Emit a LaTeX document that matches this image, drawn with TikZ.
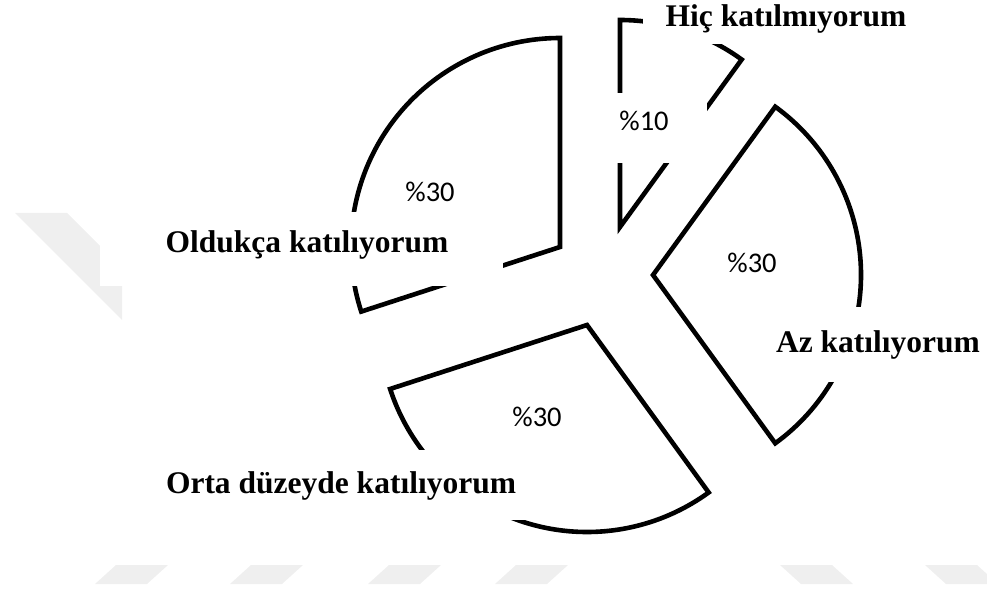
\documentclass[tikz,border=0pt]{standalone}
\usepackage{fontspec}
\setmainfont{Liberation Serif}
\newfontfamily\pctfont{Carlito}
\definecolor{wmgray}{HTML}{EFEFEF}
\begin{document}
\begin{tikzpicture}[x=1pt,y=1pt,
  slice/.style={draw=black,line width=4.6pt,line join=miter},
  wm/.style={fill=wmgray,draw=none},
  mask/.style={fill=white,draw=none},
  catlabel/.style={font=\fontsize{31.5}{34}\selectfont\bfseries,anchor=base,inner sep=0pt},
  pctlabel/.style={font=\fontsize{28.5}{30}\selectfont\pctfont,anchor=base,inner sep=0pt}]
\useasboundingbox (0,0) rectangle (987,595);
% watermark
\fill[wm] (15,382) -- (67,382) -- (122,327) -- (122,275) -- cycle;
\foreach \a in {95,230,368,495}{
  \fill[wm] (\a,11) -- (\a+52,11) -- (\a+73,30) -- (\a+21,30) -- cycle;}
\foreach \a in {780,925}{
  \fill[wm] (\a,30) -- (\a+52,30) -- (\a+73,11) -- (\a+21,11) -- cycle;}
% slice apexes
\coordinate (o1) at (620,368);
\coordinate (o2) at (653,320);
\coordinate (o3) at (587,270);
\coordinate (o4) at (560,348);
% slices
\draw[slice] (o1) -- ++(90:207) arc[start angle=90,end angle=54,radius=207pt] -- cycle;
\draw[slice] (o2) -- ++(54:208) arc[start angle=54,end angle=-54,radius=208pt] -- cycle;
\draw[slice] (o3) -- ++(306:207) arc[start angle=306,end angle=198,radius=207pt] -- cycle;
\draw[slice] (o4) -- ++(198:209) arc[start angle=198,end angle=90,radius=209pt] -- cycle;
% label backgrounds
\fill[mask] (643,551) rectangle (935,595);
\fill[mask] (768,213) rectangle (987,288);
\fill[mask] (150,75) rectangle (528,145);
\fill[mask] (100,309) rectangle (503,383);
\fill[mask] (593,432) rectangle (707,502);
% category labels
\node[catlabel] (hic) at (786,568) {Hiç katılmıyorum};
\node[catlabel] (az) at (878,243) {Az katılıyorum};
\node[catlabel] (orta) at (341,102) {Orta düzeyde katılıyorum};
\node[catlabel] (old) at (307,342) {Oldukça katılıyorum};
% percentages
\node[pctlabel] (p1) at (644,464) {\%10};
\node[pctlabel] (p4) at (430,393) {\%30};
\node[pctlabel] (p2) at (752,322) {\%30};
\node[pctlabel] (p3) at (537,169) {\%30};
\end{tikzpicture}
\end{document}
